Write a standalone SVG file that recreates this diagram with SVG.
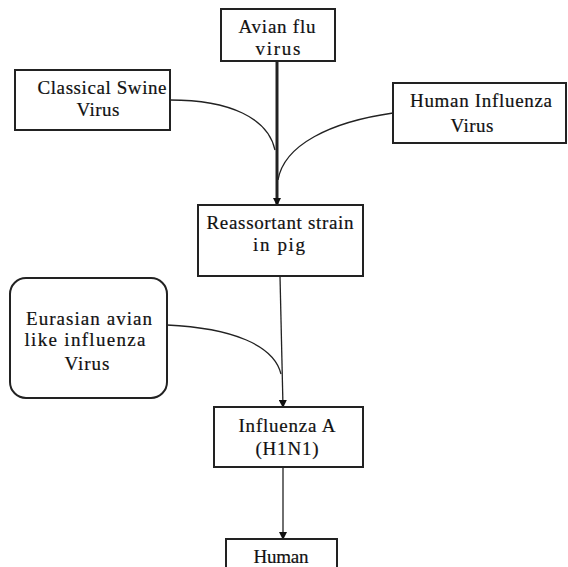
<svg xmlns="http://www.w3.org/2000/svg" width="568" height="567" viewBox="0 0 568 567">
<style>
.box{fill:#fff;stroke:#222;stroke-width:2}
.t{font-family:"Liberation Serif","Times New Roman","DejaVu Serif",serif;font-size:19px;fill:#111;stroke:#111;stroke-width:0.2;text-anchor:middle}
.c{fill:none;stroke:#222;stroke-width:1.3}
</style>
<defs>
<marker id="ah" markerWidth="8" markerHeight="8" refX="7" refY="4" orient="auto" markerUnits="userSpaceOnUse">
<path d="M0,0 L8,4 L0,8 z" fill="#111"/>
</marker>
</defs>
<rect width="568" height="567" fill="#fff"/>
<g id="connectors">
<path class="c" d="M277,61 L277,205" style="stroke-width:3" marker-end="url(#ah)"/>
<path class="c" d="M170,100 C230,100 268,118 275,150"/>
<path class="c" d="M393,113 C330,122 284,145 278,180"/>
<path class="c" d="M280,276 L283,407" marker-end="url(#ah)"/>
<path class="c" d="M167,325 C232,328 274,345 281,374"/>
<path class="c" d="M283,467 L283,539" marker-end="url(#ah)"/>
</g>
<g id="avian" font-family="Liberation Serif, serif">
<rect class="box" x="221" y="9" width="114" height="52"/>
<text class="t" x="277" y="33" textLength="77" lengthAdjust="spacing">Avian flu</text>
<text class="t" x="278" y="55" textLength="45" lengthAdjust="spacing">virus</text>
</g>
<g id="classical">
<rect class="box" x="15" y="70" width="155" height="60"/>
<text class="t" x="102" y="94" textLength="129" lengthAdjust="spacing">Classical Swine</text>
<text class="t" x="98" y="116" textLength="43" lengthAdjust="spacing">Virus</text>
</g>
<g id="human-influenza">
<rect class="box" x="393" y="83" width="173" height="60"/>
<text class="t" x="481" y="107" textLength="142" lengthAdjust="spacing">Human Influenza</text>
<text class="t" x="472" y="132" textLength="43" lengthAdjust="spacing">Virus</text>
</g>
<g id="reassortant">
<rect class="box" x="198" y="205" width="165" height="71"/>
<text class="t" x="280" y="229" textLength="147" lengthAdjust="spacing">Reassortant strain</text>
<text class="t" x="279" y="251" textLength="52" lengthAdjust="spacing">in pig</text>
</g>
<g id="eurasian">
<rect class="box" x="10" y="278" width="157" height="120" rx="16"/>
<text class="t" x="89" y="325" textLength="126" lengthAdjust="spacing">Eurasian avian</text>
<text class="t" x="85" y="346" textLength="121" lengthAdjust="spacing">like influenza</text>
<text class="t" x="87" y="370" textLength="45" lengthAdjust="spacing">Virus</text>
</g>
<g id="influenza-a">
<rect class="box" x="214" y="407" width="149" height="60"/>
<text class="t" x="287" y="432" textLength="97" lengthAdjust="spacing">Influenza A</text>
<text class="t" x="287" y="455" textLength="63" lengthAdjust="spacing">(H1N1)</text>
</g>
<g id="human">
<rect class="box" x="226" y="539" width="111" height="40"/>
<text class="t" x="281" y="563" textLength="55" lengthAdjust="spacing">Human</text>
</g>
</svg>
